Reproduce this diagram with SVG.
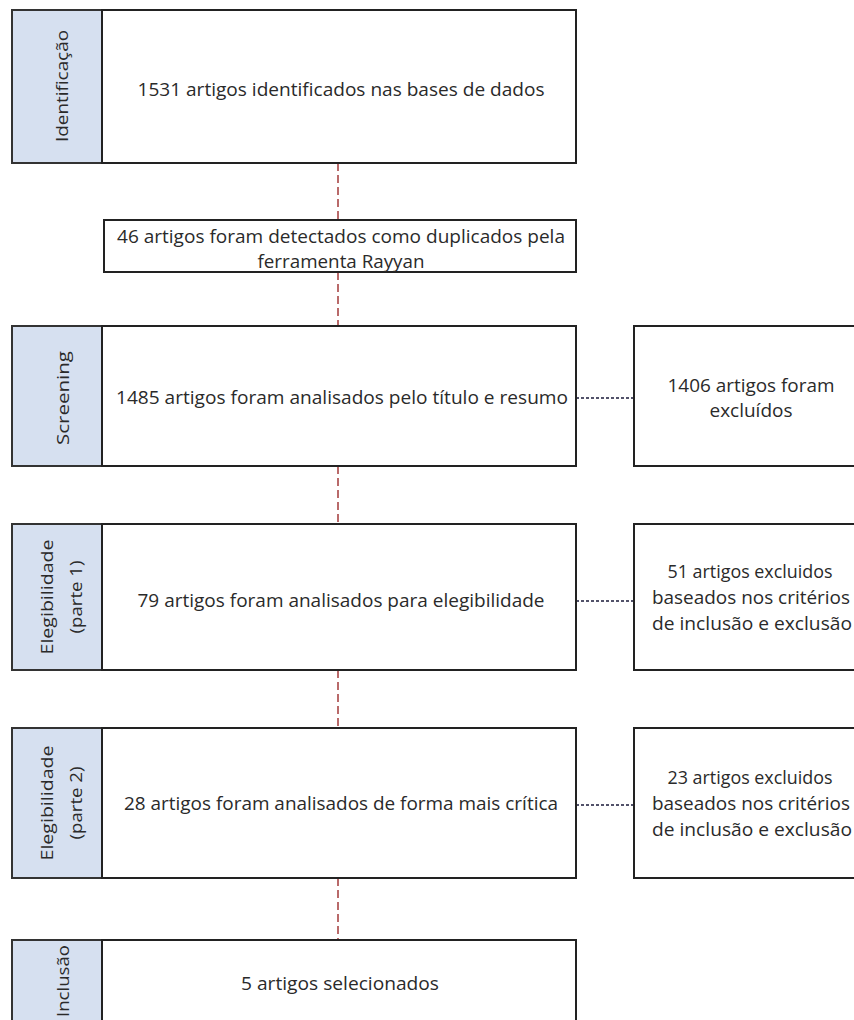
<svg xmlns="http://www.w3.org/2000/svg" width="854" height="1020" viewBox="0 0 854 1020">
<style>
.side{fill:#d6e0f0;stroke:#333;stroke-width:2}
.box{fill:#fff;stroke:#222;stroke-width:2}
.t{font-family:"Open Sans","Liberation Sans",sans-serif;font-size:18.5px;fill:#2a2a2a;text-anchor:middle}
.s{font-family:"Open Sans","Liberation Sans",sans-serif;font-size:17px;fill:#2a2a2a;text-anchor:middle}
.v{stroke:#a33a3a;stroke-width:1.5;stroke-dasharray:8,4;fill:none}
.h{stroke:#1a1a3a;stroke-width:1.5;stroke-dasharray:3,2;fill:none}
</style>
<rect width="854" height="1020" fill="#fff"/>
<g id="connectors">
<line class="v" x1="338" y1="163" x2="338" y2="220"/>
<line class="v" x1="338" y1="272" x2="338" y2="326"/>
<line class="v" x1="338" y1="466" x2="338" y2="524"/>
<line class="v" x1="338" y1="670" x2="338" y2="728"/>
<line class="v" x1="338" y1="878" x2="338" y2="940"/>
<line class="h" x1="576" y1="398" x2="634" y2="398"/>
<line class="h" x1="576" y1="601" x2="634" y2="601"/>
<line class="h" x1="576" y1="805" x2="634" y2="805"/>
</g>
<g id="identificacao">
<rect class="side" x="12" y="10" width="90" height="153"/>
<rect class="box" x="102" y="10" width="474" height="153"/>
<text class="s" transform="translate(68,86) rotate(-90)" textLength="112" lengthAdjust="spacingAndGlyphs">Identificação</text>
<text class="t" x="341" y="96" textLength="407" lengthAdjust="spacingAndGlyphs">1531 artigos identificados nas bases de dados</text>
</g>
<g id="duplicados">
<rect class="box" x="104" y="220" width="472" height="52"/>
<text class="t" x="341" y="243" textLength="448" lengthAdjust="spacingAndGlyphs">46 artigos foram detectados como duplicados pela</text>
<text class="t" x="341" y="268" textLength="167" lengthAdjust="spacingAndGlyphs">ferramenta Rayyan</text>
</g>
<g id="screening">
<rect class="side" x="12" y="326" width="90" height="140"/>
<rect class="box" x="102" y="326" width="474" height="140"/>
<text class="s" transform="translate(69,398) rotate(-90)" textLength="94" lengthAdjust="spacingAndGlyphs">Screening</text>
<text class="t" x="342" y="404" textLength="452" lengthAdjust="spacingAndGlyphs">1485 artigos foram analisados pelo título e resumo</text>
</g>
<g id="excluidos1">
<rect class="box" x="634" y="326" width="224" height="140"/>
<text class="t" x="751" y="392" textLength="167" lengthAdjust="spacingAndGlyphs">1406 artigos foram</text>
<text class="t" x="751" y="417" textLength="83" lengthAdjust="spacingAndGlyphs">excluídos</text>
</g>
<g id="elegibilidade1">
<rect class="side" x="12" y="524" width="90" height="146"/>
<rect class="box" x="102" y="524" width="474" height="146"/>
<text class="s" transform="translate(53,597) rotate(-90)" textLength="115" lengthAdjust="spacingAndGlyphs">Elegibilidade</text>
<text class="s" transform="translate(82,597) rotate(-90)" textLength="73" lengthAdjust="spacingAndGlyphs">(parte 1)</text>
<text class="t" x="341" y="607" textLength="407" lengthAdjust="spacingAndGlyphs">79 artigos foram analisados para elegibilidade</text>
</g>
<g id="excluidos2">
<rect class="box" x="634" y="524" width="224" height="146"/>
<text class="t" x="750" y="578" textLength="165" lengthAdjust="spacingAndGlyphs">51 artigos excluidos</text>
<text class="t" x="751" y="604" textLength="198" lengthAdjust="spacingAndGlyphs">baseados nos critérios</text>
<text class="t" x="752" y="630" textLength="200" lengthAdjust="spacingAndGlyphs">de inclusão e exclusão</text>
</g>
<g id="elegibilidade2">
<rect class="side" x="12" y="728" width="90" height="150"/>
<rect class="box" x="102" y="728" width="474" height="150"/>
<text class="s" transform="translate(53,803) rotate(-90)" textLength="115" lengthAdjust="spacingAndGlyphs">Elegibilidade</text>
<text class="s" transform="translate(82,803) rotate(-90)" textLength="73" lengthAdjust="spacingAndGlyphs">(parte 2)</text>
<text class="t" x="341" y="810" textLength="434" lengthAdjust="spacingAndGlyphs">28 artigos foram analisados de forma mais crítica</text>
</g>
<g id="excluidos3">
<rect class="box" x="634" y="728" width="224" height="150"/>
<text class="t" x="750" y="784" textLength="165" lengthAdjust="spacingAndGlyphs">23 artigos excluidos</text>
<text class="t" x="751" y="810" textLength="198" lengthAdjust="spacingAndGlyphs">baseados nos critérios</text>
<text class="t" x="752" y="836" textLength="200" lengthAdjust="spacingAndGlyphs">de inclusão e exclusão</text>
</g>
<g id="inclusao">
<rect class="side" x="12" y="940" width="90" height="100"/>
<rect class="box" x="102" y="940" width="474" height="100"/>
<text class="s" transform="translate(69,981) rotate(-90)" textLength="72" lengthAdjust="spacingAndGlyphs">Inclusão</text>
<text class="t" x="340" y="990" textLength="198" lengthAdjust="spacingAndGlyphs">5 artigos selecionados</text>
</g>
</svg>
